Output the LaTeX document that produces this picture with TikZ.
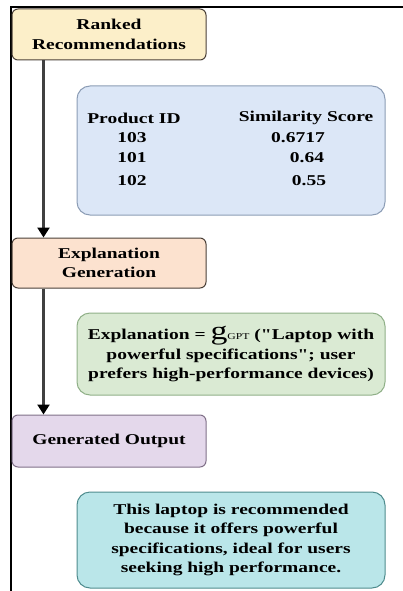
\documentclass[tikz,border=0pt]{standalone}
\usepackage{fontspec}
\setmainfont{Liberation Serif}[FakeStretch=1.3, Ligatures=TeXOff]
\usetikzlibrary{arrows.meta}
\definecolor{yelF}{HTML}{FCEFC9}
\definecolor{bluF}{HTML}{DCE7F7}
\definecolor{bluD}{HTML}{8C9DB5}
\definecolor{peaF}{HTML}{FCE2CF}
\definecolor{greF}{HTML}{DAEAD3}
\definecolor{greD}{HTML}{90B088}
\definecolor{lavF}{HTML}{E4D8EB}
\definecolor{lavD}{HTML}{807088}
\definecolor{teaF}{HTML}{BAE6E9}
\definecolor{teaD}{HTML}{4F8C8E}
\definecolor{stepD}{HTML}{4A4038}
\begin{document}
\begin{tikzpicture}[x=1pt,y=-1pt,
  txt/.style={font=\fontsize{15}{19.5}\selectfont\bfseries, align=center, inner sep=0pt},
  stepbox/.style={txt, draw=stepD, line width=1pt, rounded corners=6pt, minimum width=194pt},
  infobox/.style={txt, line width=1pt, rounded corners=13pt, minimum width=308pt},
  arr/.style={draw=black!75, line width=2.3pt, -{Triangle[length=10pt,width=12pt,color=black]}}]
\useasboundingbox (0,0) rectangle (403,591);
\draw[line width=1.2pt] (11,591) -- (11,7) -- (403,7);
\node[stepbox, fill=yelF, minimum height=51pt] (rank) at (109,34.5) {Ranked\\Recommendations};
\node[infobox, fill=bluF, draw=bluD, minimum height=129pt] (tab) at (231,150.5) {};
\node[txt] (h1) at (134,118) {Product ID};
\node[txt] (h2) at (306,118) {Similarity Score};
\node[txt] (a1) at (132,138) {103};
\node[txt] (b1) at (298,138) {0.6717};
\node[txt] (a2) at (132,158) {101};
\node[txt] (b2) at (307,158) {0.64};
\node[txt] (a3) at (132,181) {102};
\node[txt] (b3) at (309,181) {0.55};
\node[stepbox, fill=peaF, minimum height=50pt] (expl) at (109,263) {Explanation\\Generation};
\node[infobox, fill=greF, draw=greD, minimum height=82pt] (gre) at (231,354) {Explanation = {\fontsize{26}{20}\selectfont\mdseries g}{\fontsize{9}{9}\selectfont\mdseries GPT} ("Laptop with\\powerful specifications"; user\\prefers high-performance devices)};
\node[stepbox, fill=lavF, draw=lavD, minimum height=52pt] (gen) at (109,441) {Generated Output};
\node[infobox, fill=teaF, draw=teaD, minimum height=96pt] (tea) at (231,540) {This laptop is recommended\\because it offers powerful\\specifications, ideal for users\\seeking high performance.};
\draw[arr] ([xshift=32pt]rank.south west) -- ([xshift=32pt]expl.north west);
\draw[arr] ([xshift=32pt]expl.south west) -- ([xshift=32pt]gen.north west);
\end{tikzpicture}
\end{document}
